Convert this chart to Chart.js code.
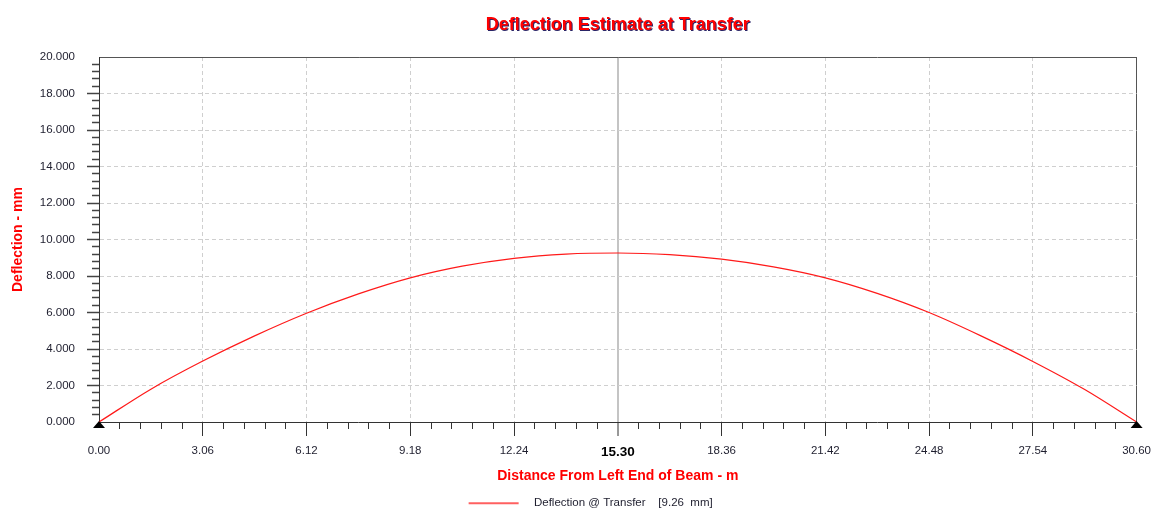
<!DOCTYPE html>
<html>
<head>
<meta charset="utf-8">
<script src="https://cdn.jsdelivr.net/npm/chart.js@4"></script>
<style>
html,body{margin:0;padding:0;background:#fff;overflow:hidden}
#wrap{width:1159px;height:509px;position:relative}
</style>
</head>
<body>
<div id="wrap"><canvas id="c"></canvas></div>
<script>
// ---- data ----
const chartTitle = 'Deflection Estimate at Transfer';
const xAxisTitle = 'Distance From Left End of Beam - m';
const yAxisTitle = 'Deflection - mm';
const legendLabel = 'Deflection @ Transfer    [9.26  mm]';

const distance = [0, 1.53, 3.06, 4.59, 6.12, 7.65, 9.18, 10.71, 12.24, 13.77, 15.30,
                  16.83, 18.36, 19.89, 21.42, 22.95, 24.48, 26.01, 27.54, 29.07, 30.60];
const deflection = [0, 1.80, 3.34, 4.72, 5.96, 7.02, 7.90, 8.54, 8.97, 9.20, 9.26,
                    9.17, 8.92, 8.50, 7.90, 7.05, 6.00, 4.72, 3.32, 1.78, 0];
const supports = [0, 30.60];

const xTickLabels = ['0.00','3.06','6.12','9.18','12.24','15.30','18.36','21.42','24.48','27.54','30.60'];
const yTickLabels = ['0.000','2.000','4.000','6.000','8.000','10.000','12.000','14.000','16.000','18.000','20.000'];
const highlightLabel = '15.30';
const xRange = [0, 30.60];
const yRange = [0, 20];
const xMinorStep = 0.612;
const yMinorStep = 0.4;
const minorPerMajor = 5;

// ---- chart ----
Chart.defaults.font.family = "'Liberation Sans', Arial, sans-serif";
const FONT = "'Liberation Sans', Arial, sans-serif";
const NONE = 'rgba(0,0,0,0)';
const hiIndex = xTickLabels.indexOf(highlightLabel) * minorPerMajor;
const xLast = (xTickLabels.length - 1) * minorPerMajor;
const yLast = (yTickLabels.length - 1) * minorPerMajor;

const titleShadow = {
  id: 'titleShadow',
  beforeDraw(chart) {
    const tb = chart.titleBlock;
    if (!tb) return;
    const ctx = chart.ctx;
    ctx.save();
    ctx.font = 'bold 18px ' + FONT;
    ctx.fillStyle = '#2a2466';
    ctx.textAlign = 'center';
    ctx.textBaseline = 'middle';
    ctx.fillText(chartTitle, (tb.left + tb.right) / 2 + 1, tb.top + 14.2 + 10.8 + 1);
    ctx.restore();
  }
};

const supportMarks = {
  id: 'supportMarks',
  afterDraw(chart) {
    const {ctx, scales: {x, y}} = chart;
    ctx.save();
    ctx.fillStyle = '#000';
    supports.forEach(s => {
      const px = x.getPixelForValue(s), py = y.getPixelForValue(0);
      ctx.beginPath();
      ctx.moveTo(px, py - 1);
      ctx.lineTo(px + 6, py + 6);
      ctx.lineTo(px - 6, py + 6);
      ctx.closePath();
      ctx.fill();
    });
    ctx.restore();
  }
};

const isMajor = c => typeof c.index === 'number' && c.index % minorPerMajor === 0;

new Chart(document.getElementById('c'), {
  type: 'line',
  data: {
    datasets: [{
      label: legendLabel,
      data: distance.map((d, i) => ({x: d, y: deflection[i]})),
      borderColor: '#ff1a1a',
      borderWidth: 1.2,
      pointRadius: 0,
      fill: false,
      cubicInterpolationMode: 'monotone'
    }]
  },
  options: {
    responsive: true,
    maintainAspectRatio: false,
    animation: false,
    devicePixelRatio: 1,
    layout: {padding: {left: 0, right: 22, top: 0, bottom: -10}},
    plugins: {
      tooltip: {enabled: false},
      title: {
        display: true, text: chartTitle, color: '#ff0000', fullSize: false,
        font: {size: 18, weight: 'bold'}, padding: {top: 14.2, bottom: 21.2}
      },
      legend: {
        position: 'bottom', fullSize: false,
        labels: {
          usePointStyle: true, pointStyleWidth: 50, padding: 0,
          font: {size: 11.5}, color: '#1e1e2e',
          generateLabels: () => [{
            text: '   ' + legendLabel + ' '.repeat(17),
            strokeStyle: '#ff6060', fillStyle: '#ff6060', lineWidth: 2,
            pointStyle: 'line', hidden: false, datasetIndex: 0, fontColor: '#1e1e2e'
          }]
        }
      }
    },
    scales: {
      x: {
        type: 'linear', min: xRange[0], max: xRange[1],
        afterFit: s => { s.height = 75.5; },
        ticks: {
          stepSize: xMinorStep, autoSkip: false, maxRotation: 0, padding: 8,
          callback: (v, i) => i % minorPerMajor === 0 ? xTickLabels[i / minorPerMajor] : '',
          font: c => c.index === hiIndex ? {size: 13.5, weight: 'bold'} : {size: 11.5},
          color: c => c.index === hiIndex ? '#000' : '#1e1e2e'
        },
        grid: {
          tickLength: 14,
          color: c => {
            if (c.index === 0) return NONE;
            if (c.index === xLast) return '#555';
            if (c.index === hiIndex) return '#c4c4c4';
            return isMajor(c) ? '#cfcfcf' : NONE;
          },
          lineWidth: c => c.index === hiIndex ? 2 : 1,
          tickColor: c => (c.index === 0 || c.index === xLast) ? NONE : '#333',
          tickWidth: 1,
          tickBorderDash: c => isMajor(c) ? [] : [6, 100]
        },
        border: {
          color: '#333', width: 1,
          dash: c => (isMajor(c) && c.index !== hiIndex && c.index !== xLast) ? [4, 3] : []
        },
        title: {
          display: true, text: xAxisTitle, color: '#ff0000',
          font: {size: 14, weight: 'bold'}, padding: {top: 0, bottom: 13}
        }
      },
      y: {
        min: yRange[0], max: yRange[1],
        afterFit: s => { s.width = 99; },
        ticks: {
          stepSize: yMinorStep, autoSkip: false, padding: 12,
          callback: (v, i) => i % minorPerMajor === 0 ? yTickLabels[i / minorPerMajor] : '',
          font: {size: 11.5}, color: '#1e1e2e'
        },
        grid: {
          tickLength: 12,
          color: c => {
            if (c.index === 0) return NONE;
            if (c.index === yLast) return '#555';
            return isMajor(c) ? '#cfcfcf' : NONE;
          },
          tickColor: c => (c.index === 0 || c.index === yLast) ? NONE : '#444',
          tickWidth: 1.5,
          tickBorderDash: c => isMajor(c) ? [] : [0, 5, 7, 100]
        },
        border: {
          color: '#333', width: 1,
          dash: c => (isMajor(c) && c.index !== yLast) ? [4, 3] : []
        },
        title: {
          display: true, text: yAxisTitle, color: '#ff0000',
          font: {size: 14, weight: 'bold'}, padding: {top: 9.6, bottom: 0}
        }
      }
    }
  },
  plugins: [titleShadow, supportMarks]
});
</script>
</body>
</html>
